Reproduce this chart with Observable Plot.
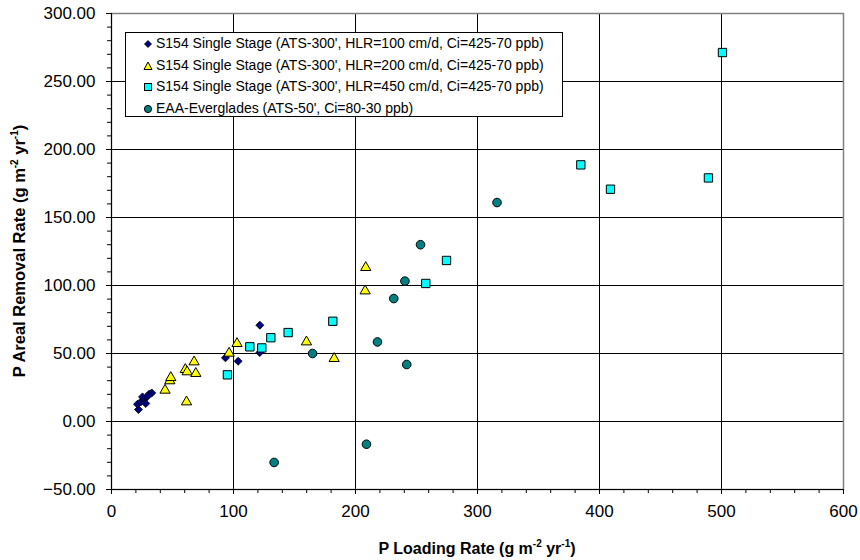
<!DOCTYPE html>
<html>
<head>
<meta charset="utf-8">
<script src="https://cdn.jsdelivr.net/npm/d3@7"></script>
<script src="https://cdn.jsdelivr.net/npm/@observablehq/plot@0.6"></script>
<style>
  html, body { margin: 0; padding: 0; background: #fff; }
  #wrap { position: relative; width: 860px; height: 560px; font-family: "Liberation Sans", Arial, sans-serif; }
  #legend { position: absolute; left: 125px; top: 32px; width: 438px; height: 85px; box-sizing: border-box;
            border: 1px solid #000; background: #fff; font-size: 14px; padding: 0 0 0 30px; }
  #legend .row { height: 21.5px; line-height: 21.5px; white-space: nowrap; position: relative; }
  #legend svg { position: absolute; left: -13px; top: 6px; }
</style>
</head>
<body>
<div id="wrap"></div>
<script>
// ---- data ----
const seriesNames = [
  "S154 Single Stage (ATS-300', HLR=100 cm/d, Ci=425-70 ppb)",
  "S154 Single Stage (ATS-300', HLR=200 cm/d, Ci=425-70 ppb)",
  "S154 Single Stage (ATS-300', HLR=450 cm/d, Ci=425-70 ppb)",
  "EAA-Everglades (ATS-50', Ci=80-30 ppb)"
];
const hlr100X = [22.1, 21.3, 24.0, 26.7, 28.1, 25.4, 30.8, 33.0, 29.5, 93.4, 103.8, 121.5, 121.6];
const hlr100Y = [8.8, 12.7, 14.4, 16.2, 13.2, 18.1, 20.1, 21.0, 18.6, 46.8, 44.3, 50.7, 70.8];
const hlr200X = [43.9, 47.8, 48.6, 61.5, 60.5, 62.0, 67.7, 69.1, 96.4, 102.9, 159.8, 182.5, 207.9, 208.4];
const hlr200Y = [23.0, 29.9, 32.3, 14.4, 38.2, 36.5, 43.8, 35.3, 50.2, 57.3, 58.5, 46.3, 96.0, 113.2];
const hlr450X = [95.0, 113.4, 123.2, 130.6, 144.8, 181.4, 257.6, 274.6, 384.7, 409.0, 489.3, 500.8];
const hlr450Y = [34.3, 54.9, 54.1, 61.6, 65.4, 73.7, 101.5, 118.4, 188.7, 170.8, 179.1, 271.3];
const eaaX = [133.3, 164.8, 209.0, 218.0, 231.4, 240.5, 242.0, 253.3, 316.0];
const eaaY = [-30.1, 50.0, -16.7, 58.5, 90.4, 103.2, 41.9, 130.0, 161.0];
const xMajorTicks = [0, 100, 200, 300, 400, 500, 600];
const yMajorTicks = [-50, 0, 50, 100, 150, 200, 250, 300];
const xMinorTicks = d3.range(0, 601, 20);
const yMinorTicks = d3.range(-50, 301, 10);

const toRows = (xs, ys) => xs.map((x, i) => ({x, y: ys[i]}));
const s100 = toRows(hlr100X, hlr100Y);
const s200 = toRows(hlr200X, hlr200Y);
const s450 = toRows(hlr450X, hlr450Y);
const sEaa = toRows(eaaX, eaaY);

const styles = [
  {symbol: "diamond2", r: 3.6, fill: "#000080"},
  {symbol: "triangle", r: 3.8, fill: "#FFFF00"},
  {symbol: "square", r: 4.7, fill: "#00FFFF"},
  {symbol: "circle", r: 4.3, fill: "#008080"}
];

const chart = Plot.plot({
  width: 860,
  height: 560,
  marginLeft: 111,
  marginRight: 17,
  marginTop: 13,
  marginBottom: 71,
  x: {domain: [0, 600]},
  y: {domain: [-50, 300]},
  style: {fontFamily: "'Liberation Sans', Arial, sans-serif", fontSize: "17px", color: "#000", background: "#fff"},
  marks: [
    Plot.gridX(xMajorTicks, {stroke: "#000", strokeOpacity: 1, strokeWidth: 1}),
    Plot.gridY(yMajorTicks, {stroke: "#000", strokeOpacity: 1, strokeWidth: 1}),
    Plot.frame({stroke: "#808080", strokeWidth: 1.5}),
    Plot.axisX(xMinorTicks, {tickSize: 4, tickFormat: () => "", label: null, stroke: "#000"}),
    Plot.axisY(yMinorTicks, {tickSize: 4, tickFormat: () => "", label: null, stroke: "#000"}),
    Plot.axisX(xMajorTicks, {tickSize: 5, tickPadding: 10, tickFormat: d3.format("d"), label: null, stroke: "#000"}),
    Plot.axisY(yMajorTicks, {tickSize: 5, tickPadding: 11, tickFormat: d3.format(".2f"), label: null, stroke: "#000"}),
    Plot.ruleX([0], {stroke: "#000"}),
    Plot.ruleY([-50], {stroke: "#000"}),
    Plot.dot(s100, {x: "x", y: "y", ...styles[0], stroke: "#000", strokeWidth: 0.8}),
    Plot.dot(s200, {x: "x", y: "y", ...styles[1], stroke: "#000", strokeWidth: 1}),
    Plot.dot(s450, {x: "x", y: "y", ...styles[2], stroke: "#000", strokeWidth: 1}),
    Plot.dot(sEaa, {x: "x", y: "y", ...styles[3], stroke: "#000", strokeWidth: 1})
  ]
});

const wrap = document.getElementById("wrap");
wrap.appendChild(chart);

// axis titles with superscripts
const svg = d3.select(chart);
const xr = chart.scale("x").range, yr = chart.scale("y").range;
const xt = svg.append("text")
  .attr("x", (xr[0] + xr[1]) / 2).attr("y", 554)
  .attr("text-anchor", "middle").attr("font-weight", "bold").attr("font-size", 16)
  .attr("fill", "#000");
xt.append("tspan").text("P Loading Rate (g m");
xt.append("tspan").attr("font-size", 10).attr("dy", -7).text("-2");
xt.append("tspan").attr("dy", 7).text(" yr");
xt.append("tspan").attr("font-size", 10).attr("dy", -7).text("-1");
xt.append("tspan").attr("dy", 7).text(")");

const yt = svg.append("text")
  .attr("transform", `translate(25,${(yr[0] + yr[1]) / 2}) rotate(-90)`)
  .attr("text-anchor", "middle").attr("font-weight", "bold").attr("font-size", 16.5)
  .attr("fill", "#000");
yt.append("tspan").text("P Areal Removal Rate (g m");
yt.append("tspan").attr("font-size", 10).attr("dy", -7).text("-2");
yt.append("tspan").attr("dy", 7).text(" yr");
yt.append("tspan").attr("font-size", 10).attr("dy", -7).text("-1");
yt.append("tspan").attr("dy", 7).text(")");

// legend (HTML, real text)
const legend = document.createElement("div");
legend.id = "legend";
const shapes = [
  '<svg width="10" height="10"><path d="M5,1.5L8.5,5L5,8.5L1.5,5Z" fill="#000080" stroke="#000" stroke-width="0.8"/></svg>',
  '<svg width="10" height="10"><path d="M5,1L9,8.5L1,8.5Z" fill="#FFFF00" stroke="#000" stroke-width="1"/></svg>',
  '<svg width="10" height="10"><rect x="1.5" y="1.5" width="7" height="7" fill="#00FFFF" stroke="#000" stroke-width="1"/></svg>',
  '<svg width="10" height="10"><circle cx="5" cy="5" r="3.6" fill="#008080" stroke="#000" stroke-width="1"/></svg>'
];
seriesNames.forEach((name, i) => {
  const row = document.createElement("div");
  row.className = "row";
  row.innerHTML = shapes[i];
  const span = document.createElement("span");
  span.textContent = name;
  row.appendChild(span);
  legend.appendChild(row);
});
wrap.appendChild(legend);
</script>
</body>
</html>
